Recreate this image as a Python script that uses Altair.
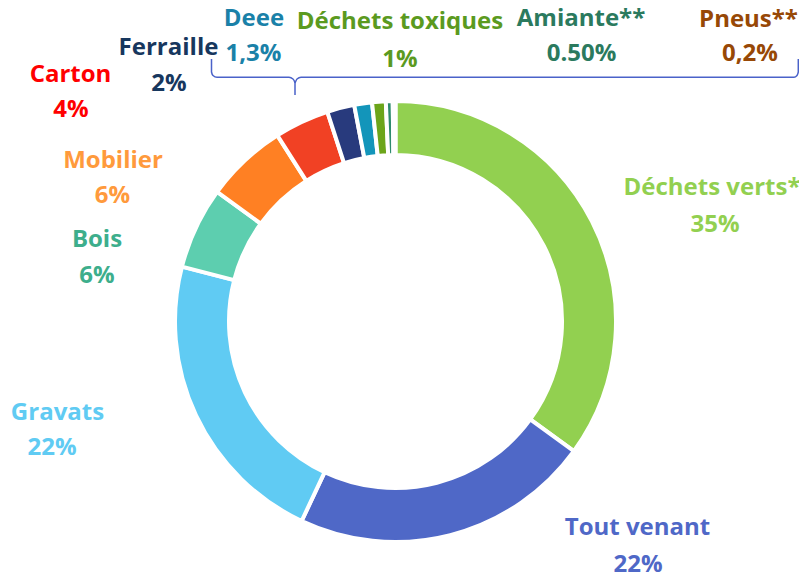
import altair as alt
import pandas as pd

# ---- data ----
categories = ["Déchets verts*", "Tout venant", "Gravats", "Bois", "Mobilier", "Carton",
              "Ferraille", "Deee", "Déchets toxiques", "Amiante**", "Pneus**"]
values = [35, 22, 22, 6, 6, 4, 2, 1.3, 1, 0.5, 0.2]
pct_labels = ["35%", "22%", "22%", "6%", "6%", "4%", "2%", "1,3%", "1%", "0.50%", "0,2%"]

# ---- styling ----
slice_colors = ["#92D050", "#4F68C7", "#60CBF3", "#5DCEAF", "#FF8023", "#F14124",
                "#283A7D", "#1395BA", "#6CA51A", "#2E8B6E", "#974806"]
label_colors = ["#92D050", "#4F68C7", "#60CBF3", "#3DAE8C", "#FF9A3C", "#FF0000",
                "#17375E", "#1A81A8", "#5B9A1F", "#2B7A5E", "#974806"]
# label anchors in page pixels: centre x / baseline of the name line, centre x / baseline of the % line
label_x1 = [712, 637.5, 57.5, 97, 113, 70.5, 168.5, 254, 400, 581, 748.5]
label_y1 = [195, 535, 420, 247, 168, 82, 55, 26, 28.5, 26, 26.5]
label_x2 = [715, 638, 52, 97, 112.5, 71, 169, 253.5, 400, 581.5, 750]
label_y2 = [232, 572, 455, 283, 203, 117, 91, 61, 67, 61, 61]

# bracket (curly brace) drawn above the small categories, page pixels
brace_x = [211.5, 211.5, 213, 217, 289, 293, 295, 295,
           295, 297, 301, 794, 797, 798.3, 798.3]
brace_y = [59, 72, 75.5, 77.3, 77.3, 79, 83, 95,
           83, 79, 77.3, 77.3, 75.5, 72, 59]
brace_seg = [0, 0, 0, 0, 0, 0, 0, 0, 1, 1, 1, 1, 1, 1, 1]

M = 8  # page margin
CX, CY = 395.5 - M, 321.5 - M

df = pd.DataFrame({
    "idx": list(range(len(categories))),
    "category": categories,
    "value": values,
    "color": slice_colors,
})

lab = pd.DataFrame({
    "category": categories,
    "pct": pct_labels,
    "lcolor": label_colors,
    "x1": [v - M for v in label_x1],
    "y1": [v - M for v in label_y1],
    "x2": [v - M for v in label_x2],
    "y2": [v - M for v in label_y2],
})

brace = pd.DataFrame({
    "o": list(range(len(brace_x))),
    "x": [v - M for v in brace_x],
    "y": [v - M for v in brace_y],
    "seg": brace_seg,
})

donut = alt.Chart(df).mark_arc(
    radius=220.5, radius2=166.5, stroke="white", strokeWidth=4
).encode(
    theta=alt.Theta("value:Q", stack=True),
    order=alt.Order("idx:Q"),
    color=alt.Color("color:N", scale=None),
    x=alt.value(CX),
    y=alt.value(CY),
)

font = "Open Sans"
fs = 24
names = alt.Chart(lab).mark_text(
    font=font, fontSize=fs, fontWeight="bold", align="center", baseline="alphabetic"
).encode(
    x=alt.X("x1:Q", scale=None),
    y=alt.Y("y1:Q", scale=None),
    text="category:N",
    color=alt.Color("lcolor:N", scale=None),
)
pcts = alt.Chart(lab).mark_text(
    font=font, fontSize=fs, fontWeight="bold", align="center", baseline="alphabetic"
).encode(
    x=alt.X("x2:Q", scale=None),
    y=alt.Y("y2:Q", scale=None),
    text="pct:N",
    color=alt.Color("lcolor:N", scale=None),
)

bracket = alt.Chart(brace).mark_line(
    color="#4A62C9", strokeWidth=1.5, interpolate="monotone"
).encode(
    x=alt.X("x:Q", scale=None),
    y=alt.Y("y:Q", scale=None),
    order="o:Q",
    detail="seg:N",
)

chart = alt.layer(donut, bracket, names, pcts).properties(
    width=791, height=569, padding=0,
    autosize=alt.AutoSizeParams(type="none"),
).configure_view(strokeWidth=0)

chart.save("out.html", embed_options={"renderer": "svg", "actions": False})
